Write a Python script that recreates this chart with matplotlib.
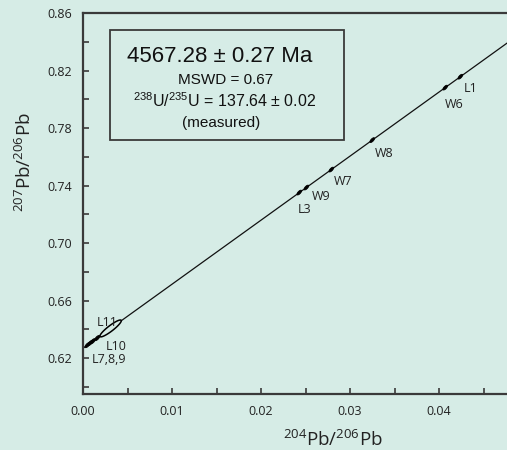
import numpy as np
import matplotlib
matplotlib.use("Agg")
import matplotlib.pyplot as plt
from matplotlib.patches import Rectangle

plt.rcParams['mathtext.fontset'] = 'custom'
plt.rcParams['mathtext.rm'] = 'Liberation Sans'

# ---- data ----
names = ["L7", "L8", "L9", "L10", "L11", "L3", "W9", "W7", "W8", "W6", "L1"]
x_vals = [0.0005, 0.0008, 0.0011, 0.0016, 0.0031, 0.0243, 0.0251, 0.0279, 0.0325, 0.0407, 0.0424]
y_vals = [0.6290, 0.6304, 0.6317, 0.6339, 0.6406, 0.7351, 0.7386, 0.7511, 0.7716, 0.8081, 0.8157]
x_err = [0.00028, 0.00028, 0.00028, 0.00028, 0.00120, 0.00026, 0.00026, 0.00026, 0.00026, 0.00026, 0.00026]
perp_err = [0.0013, 0.0013, 0.0013, 0.0013, 0.0024, 0.0012, 0.0012, 0.0012, 0.0012, 0.0012, 0.0012]
filled = [True, True, True, True, False, True, True, True, True, True, True]

iso_intercept = 0.6268
iso_slope = 4.455

label_text = ["L1", "W6", "W8", "W7", "W9", "L3", "L11", "L10", "L7,8,9"]
label_x = [0.0435, 0.0417, 0.0338, 0.0292, 0.0267, 0.0249, 0.0027, 0.0037, 0.0029]
label_y = [0.8078, 0.7965, 0.7620, 0.7430, 0.7323, 0.7231, 0.6448, 0.6280, 0.6187]

xticks = [0.00, 0.01, 0.02, 0.03, 0.04]
xtick_labels = ["0.00", "0.01", "0.02", "0.03", "0.04"]
yticks = [0.62, 0.66, 0.70, 0.74, 0.78, 0.82, 0.86]
ytick_labels = ["0.62", "0.66", "0.70", "0.74", "0.78", "0.82", "0.86"]

bg = '#d6ece6'
dark = '#3a3a3a'

fig = plt.figure(figsize=(5.07, 4.5), dpi=100, facecolor=bg)
ax = fig.add_axes([83/507, 56/450, 445/507, 381/450])
ax.set_facecolor(bg)
ax.set_xlim(0, 0.05)
ax.set_ylim(0.595, 0.86)

# isochron
xl = np.array([0.0, 0.05])
ax.plot(xl, iso_intercept + iso_slope * xl, color='#111111', lw=0.9, zorder=2)

# error ellipses
t = np.linspace(0, 2*np.pi, 100)
for cx, cy, a, b, f in zip(x_vals, y_vals, x_err, perp_err, filled):
    ex = cx + a*np.cos(t)
    ey = cy + iso_slope*a*np.cos(t) + b*np.sin(t)
    if f:
        ax.fill(ex, ey, color='black', lw=0.6, zorder=3)
    else:
        ax.fill(ex, ey, facecolor=bg, edgecolor='black', lw=1.1, zorder=3)

for s, lx, ly in zip(label_text, label_x, label_y):
    ax.text(lx, ly, s, fontsize=9, family='Open Sans', color='#222222',
            ha='center', va='center', zorder=4)

# spines/ticks
for sp in ['left', 'bottom', 'top']:
    ax.spines[sp].set_color(dark)
    ax.spines[sp].set_linewidth(1.6)
ax.spines['right'].set_visible(False)
ax.set_xticks(xticks)
ax.set_xticklabels(xtick_labels)
ax.set_xticks([0.005, 0.015, 0.025, 0.035, 0.045], minor=True)
ax.set_yticks(yticks)
ax.set_yticklabels(ytick_labels)
ax.set_yticks([0.60, 0.64, 0.68, 0.72, 0.76, 0.80, 0.84], minor=True)
ax.tick_params(which='both', direction='in', length=4, width=1.2, color=dark,
               top=False, right=False)
ax.tick_params(which='major', labelsize=9, pad=8, labelcolor='#222222')
for lab in ax.get_xticklabels() + ax.get_yticklabels():
    lab.set_family('Open Sans')

fig.text(333/507, 1 - 440/450, r"$\mathregular{^{204}Pb/^{206}Pb}$", fontsize=13.5,
         family='Open Sans', ha='center', va='center', color='#222222')
fig.text(25/507, 1 - 162/450, r"$\mathregular{^{207}Pb/^{206}Pb}$", fontsize=13.5,
         family='Open Sans', ha='center', va='center', rotation=90, color='#222222')

# info box
fig.patches.append(Rectangle((110/507, 1 - 140/450), 234/507, 110/450,
                             transform=fig.transFigure, facecolor=bg,
                             edgecolor=dark, lw=1.3, zorder=5))
fig.text(220/507, 1 - 57/450, "4567.28 ± 0.27 Ma", fontsize=16,
         family='Liberation Sans', ha='center', va='center', color='#111111', zorder=6)
fig.text(226/507, 1 - 80/450, "MSWD = 0.67", fontsize=11,
         family='Liberation Sans', ha='center', va='center', color='#111111', zorder=6)
fig.text(225/507, 1 - 101/450, r"$\mathregular{^{238}U/^{235}U}$ = 137.64 ± 0.02", fontsize=11.5,
         family='Liberation Sans', ha='center', va='center', color='#111111', zorder=6)
fig.text(221/507, 1 - 123/450, "(measured)", fontsize=11,
         family='Liberation Sans', ha='center', va='center', color='#111111', zorder=6)

fig.savefig("out.png", dpi=100, facecolor=bg)
